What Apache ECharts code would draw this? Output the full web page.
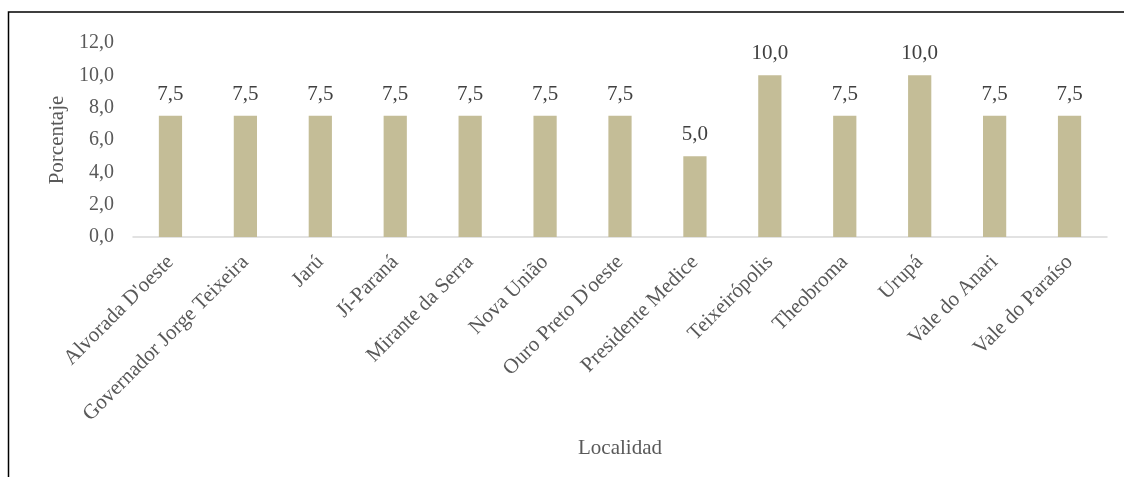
<!DOCTYPE html>
<html><head><meta charset="utf-8">
<script src="https://cdn.jsdelivr.net/npm/echarts@6/dist/echarts.min.js"></script>
<style>html,body{margin:0;padding:0;background:#fff}#c{width:1124px;height:477px}</style>
</head><body><div id="c"></div>
<script>
var categories = ["Alvorada D'oeste","Governador Jorge Teixeira","Jarú","Jí-Paraná","Mirante da Serra","Nova União","Ouro Preto D'oeste","Presidente Medice","Teixeirópolis","Theobroma","Urupá","Vale do Anari","Vale do Paraíso"];
var values = [7.5,7.5,7.5,7.5,7.5,7.5,7.5,5.0,10.0,7.5,10.0,7.5,7.5];
var xTitle = "Localidad";
var yTitle = "Porcentaje";
var fmt = function(v){ return Number(v).toFixed(1).replace('.', ','); };
var font = "'Liberation Serif','Times New Roman',serif";
var chart = echarts.init(document.getElementById('c'));
chart.setOption({
  animation:false,
  backgroundColor:'#fff',
  grid:{left:133,right:17,top:43,bottom:240,containLabel:false},
  xAxis:{type:'category',data:categories,
    name:xTitle,nameLocation:'middle',nameGap:201,
    nameTextStyle:{color:'#595959',fontFamily:font,fontSize:21},
    axisLine:{lineStyle:{color:'#d9d9d9',width:1.5}},
    axisTick:{show:false},
    axisLabel:{rotate:45,interval:0,margin:22,color:'#595959',fontFamily:font,fontSize:21}},
  yAxis:{type:'value',min:0,max:12,interval:2,
    name:yTitle,nameLocation:'middle',nameGap:63,
    nameTextStyle:{color:'#595959',fontFamily:font,fontSize:21},
    axisLine:{show:false},axisTick:{show:false},splitLine:{show:false},
    axisLabel:{formatter:fmt,margin:19,color:'#595959',fontFamily:font,fontSize:20}},
  series:[{type:'bar',data:values,barWidth:'31%',
    itemStyle:{color:'#c4bd97'},
    label:{show:true,position:'top',distance:11,formatter:function(p){return fmt(p.value);},
      color:'#404040',fontFamily:font,fontSize:21}}],
  graphic:[{type:'polyline',shape:{points:[[8.5,477],[8.5,12],[1124,12]]},
    style:{stroke:'#000',lineWidth:1.5,fill:null},silent:true}]
});
</script></body></html>
